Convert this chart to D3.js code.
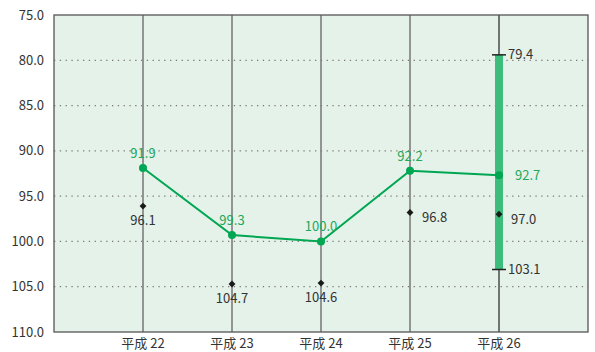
<!DOCTYPE html>
<html>
<head>
<meta charset="utf-8">
<script src="https://cdn.jsdelivr.net/npm/d3@7"></script>
<style>
  body { margin: 0; background: #fff; }
  text { font-family: "Noto Sans CJK JP", "Noto Sans", sans-serif; }
</style>
</head>
<body>
<div id="chart"></div>
<script>
/* DATA */
const categories = ["平成 22", "平成 23", "平成 24", "平成 25", "平成 26"];
const greenValues = [91.9, 99.3, 100.0, 92.2, 92.7];
const blackValues = [96.1, 104.7, 104.6, 96.8, 97.0];
const rangeMin = 79.4;   // top whisker, 平成 26
const rangeMax = 103.1;  // bottom whisker, 平成 26
const yTicks = [75, 80, 85, 90, 95, 100, 105, 110];

/* CONFIGURATION */
const config = {
    width: 595,
    height: 352,
    margin: { top: 15, right: 7, bottom: 20, left: 54 }
};
const GREEN = "#00a651";
const GREEN_LABEL = "#1ea85c";
const BAR = "#3dbd7b";
const TEXT = "#333";

const svg = d3.select("#chart")
    .append("svg")
    .attr("width", config.width)
    .attr("height", config.height);

const x0 = config.margin.left;
const x1 = config.width - config.margin.right;
const y0 = config.margin.top;
const y1 = config.height - config.margin.bottom;

const xScale = d3.scalePoint()
    .domain(categories)
    .range([x0, x1])
    .padding(1);

// reversed axis: 75 at the top, 110 at the bottom
const yScale = d3.scaleLinear()
    .domain([75, 110])
    .range([y0, y1]);

// plot background
svg.append("rect")
    .attr("x", x0).attr("y", y0)
    .attr("width", x1 - x0).attr("height", y1 - y0)
    .attr("fill", "#e4f2e9");

// dotted gridlines
svg.append("g")
    .selectAll("line")
    .data(yTicks.filter(d => d !== 75 && d !== 110))
    .join("line")
    .attr("x1", x0).attr("x2", x1)
    .attr("y1", d => yScale(d)).attr("y2", d => yScale(d))
    .attr("stroke", "#7a7a7a")
    .attr("stroke-width", 1.2)
    .attr("stroke-dasharray", "1.3,4.5");

// vertical category lines
svg.append("g")
    .selectAll("line")
    .data(categories)
    .join("line")
    .attr("x1", d => xScale(d)).attr("x2", d => xScale(d))
    .attr("y1", y0).attr("y2", y1)
    .attr("stroke", (d, i) => i === categories.length - 1 ? "#222" : "#7d7d7d")
    .attr("stroke-width", (d, i) => i === categories.length - 1 ? 1.2 : 1.6);

// frame
svg.append("rect")
    .attr("x", x0).attr("y", y0)
    .attr("width", x1 - x0).attr("height", y1 - y0)
    .attr("fill", "none")
    .attr("stroke", "#555")
    .attr("stroke-width", 1.3);

// Y axis labels
svg.append("g")
    .selectAll("text")
    .data(yTicks)
    .join("text")
    .attr("x", x0 - 10)
    .attr("y", d => yScale(d))
    .attr("dy", "0.35em")
    .attr("text-anchor", "end")
    .style("font-size", "13px")
    .attr("fill", TEXT)
    .text(d => d3.format(".1f")(d));

// X axis labels
svg.append("g")
    .selectAll("text")
    .data(categories)
    .join("text")
    .attr("x", d => xScale(d))
    .attr("y", y1 + 16)
    .attr("text-anchor", "middle")
    .style("font-size", "13px")
    .attr("fill", TEXT)
    .text(d => d);

// range bar for the last category
const last = categories[categories.length - 1];
const xl = xScale(last);
svg.append("rect")
    .attr("x", xl - 4)
    .attr("y", yScale(rangeMin))
    .attr("width", 8)
    .attr("height", yScale(rangeMax) - yScale(rangeMin))
    .attr("fill", BAR);

svg.append("g")
    .selectAll("line")
    .data([rangeMin, rangeMax])
    .join("line")
    .attr("x1", xl - 7).attr("x2", xl + 7)
    .attr("y1", d => yScale(d)).attr("y2", d => yScale(d))
    .attr("stroke", "#222")
    .attr("stroke-width", 1.5);

svg.append("g")
    .selectAll("text")
    .data([rangeMin, rangeMax])
    .join("text")
    .attr("x", xl + 9)
    .attr("y", d => yScale(d))
    .attr("dy", "0.35em")
    .style("font-size", "13px")
    .attr("fill", TEXT)
    .text(d => d3.format(".1f")(d));

// green line
const line = d3.line()
    .x((d, i) => xScale(categories[i]))
    .y(d => yScale(d));

svg.append("path")
    .datum(greenValues)
    .attr("d", line)
    .attr("fill", "none")
    .attr("stroke", GREEN)
    .attr("stroke-width", 2);

svg.append("g")
    .selectAll("circle")
    .data(greenValues)
    .join("circle")
    .attr("cx", (d, i) => xScale(categories[i]))
    .attr("cy", d => yScale(d))
    .attr("r", 4)
    .attr("fill", GREEN);

// green labels: above the point, except the last one (to the right)
svg.append("g")
    .selectAll("text")
    .data(greenValues)
    .join("text")
    .attr("x", (d, i) => i === 4 ? xScale(categories[i]) + 16 : xScale(categories[i]))
    .attr("y", (d, i) => i === 4 ? yScale(d) : yScale(d) - 10)
    .attr("dy", (d, i) => i === 4 ? "0.35em" : "0")
    .attr("text-anchor", (d, i) => i === 4 ? "start" : "middle")
    .style("font-size", "13px")
    .attr("fill", GREEN_LABEL)
    .text(d => d3.format(".1f")(d));

// black diamonds
svg.append("g")
    .selectAll("path")
    .data(blackValues)
    .join("path")
    .attr("transform", (d, i) => `translate(${xScale(categories[i])},${yScale(d)})`)
    .attr("d", d3.symbol(d3.symbolDiamond2, 30))
    .attr("fill", "#1a1a1a");

// black labels: below for the first three, right for the rest
svg.append("g")
    .selectAll("text")
    .data(blackValues)
    .join("text")
    .attr("x", (d, i) => i >= 3 ? xScale(categories[i]) + 12 : xScale(categories[i]))
    .attr("y", (d, i) => i >= 3 ? yScale(d) + 5 : yScale(d) + 19)
    .attr("dy", (d, i) => i >= 3 ? "0.35em" : "0")
    .attr("text-anchor", (d, i) => i >= 3 ? "start" : "middle")
    .style("font-size", "13px")
    .attr("fill", TEXT)
    .text(d => d3.format(".1f")(d));
</script>
</body>
</html>
